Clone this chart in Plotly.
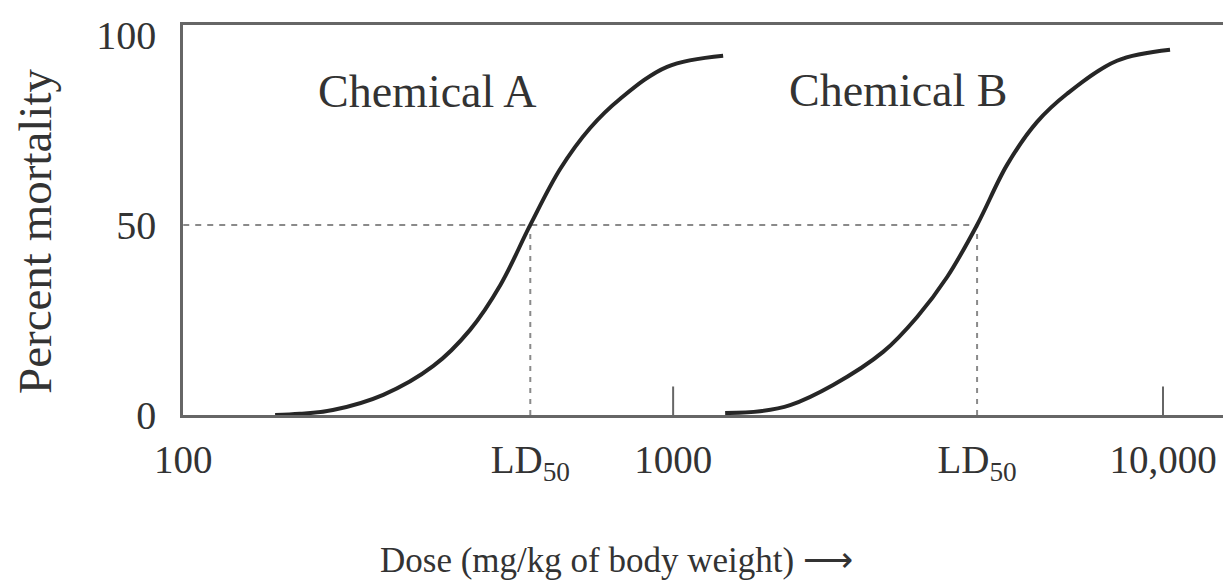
import numpy as np
import plotly.graph_objects as go

# ---- data ----
dose_a = [154, 173, 202, 256, 324, 385, 444, 511, 588, 677, 780, 972, 1265]
mort_a = [0, 0.3, 1.3, 5.3, 12.9, 22.4, 34.2, 50, 64.7, 75.5, 83.2, 91.6, 94.5]

dose_b = [1277, 1505, 1733, 2121, 2683, 3148, 3625, 4173, 4804, 5533, 6370, 8055, 10335]
mort_b = [0.5, 1.0, 2.6, 7.9, 16.6, 25.8, 36.3, 50, 65.8, 77.1, 84.5, 93.2, 96.1]

ld50_a = 511
ld50_b = 4173
ld_level = 50

tick_vals = [100, ld50_a, 1000, ld50_b, 10000]
tick_text = ["100", "LD<sub>50</sub>", "1000", "LD<sub>50</sub>", "10,000"]
y_ticks = [0, 50, 100]

label_a = ("Chemical A", 315, 85)
label_b = ("Chemical B", 2877, 85.5)

SERIF = "Liberation Serif"
INK = "#262626"
GUIDE = "#8a8a8a"

# page body has an 8px margin; compensate so the plot lands where the reference has it
PAGE_OFF = 8
L, T, B = 183 - PAGE_OFF, 25 - PAGE_OFF, 165 + PAGE_OFF
PLOT_W = 1231 - L
DECADE_PX = 490

fig = go.Figure()

# dashed guides
fig.add_trace(go.Scatter(x=[100, ld50_b], y=[ld_level, ld_level], mode="lines",
                         line=dict(color=GUIDE, width=2, dash="6px,6px"),
                         showlegend=False, hoverinfo="skip"))
for ld in (ld50_a, ld50_b):
    fig.add_trace(go.Scatter(x=[ld, ld], y=[0, ld_level], mode="lines",
                             line=dict(color=GUIDE, width=2, dash="5px,6px"),
                             showlegend=False, hoverinfo="skip"))

# small inner tick marks at 1000 and 10000
for tv in (1000, 10000):
    fig.add_trace(go.Scatter(x=[tv, tv], y=[0, 7.5], mode="lines",
                             line=dict(color="#666", width=2),
                             showlegend=False, hoverinfo="skip"))

# dose-response curves
for xs, ys in ((dose_a, mort_a), (dose_b, mort_b)):
    fig.add_trace(go.Scatter(x=xs, y=ys, mode="lines",
                             line=dict(color=INK, width=4, shape="spline", smoothing=1.0),
                             showlegend=False))

for txt, xv, yv in (label_a, label_b):
    fig.add_annotation(x=np.log10(xv), y=yv, xref="x", yref="y", text=txt,
                       xanchor="center", yanchor="middle",
                       showarrow=False, font=dict(family=SERIF, size=46, color="#333"))

# axis titles as free annotations (positioned like the reference)
fig.add_annotation(xref="paper", yref="paper", x=(35 - 183) / PLOT_W, y=(415 - 232) / 390,
                   xanchor="center", yanchor="middle",
                   text="Percent mortality", textangle=-90, showarrow=False,
                   font=dict(family=SERIF, size=47, color="#333"))
fig.add_annotation(xref="paper", yref="paper", x=(378 - 183) / PLOT_W, y=(415 - 560) / 390,
                   xanchor="left", yanchor="middle",
                   text="Dose (mg/kg of body weight) \u27F6", showarrow=False,
                   font=dict(family=SERIF, size=35, color="#333"))

fig.update_layout(
    width=1231, height=580,
    margin=dict(l=L, r=0, t=T, b=B, autoexpand=False),
    paper_bgcolor="white", plot_bgcolor="white",
    showlegend=False,
    xaxis=dict(type="log", range=[1.9995, 2 + PLOT_W / DECADE_PX],
               tickvals=tick_vals, ticktext=tick_text, ticks="",
               showgrid=False, zeroline=False, automargin=False,
               showline=True, linecolor="#666", linewidth=2.5, mirror=True,
               tickfont=dict(family=SERIF, size=39, color="#333"),
               ticklabelstandoff=8),
    yaxis=dict(range=[0, 102.6], tickvals=y_ticks, ticks="",
               showgrid=False, zeroline=False, automargin=False,
               showline=True, linecolor="#666", linewidth=2.5,
               tickfont=dict(family=SERIF, size=40, color="#333"),
               ticklabelstandoff=16),
)

fig.write_html("out.html")
